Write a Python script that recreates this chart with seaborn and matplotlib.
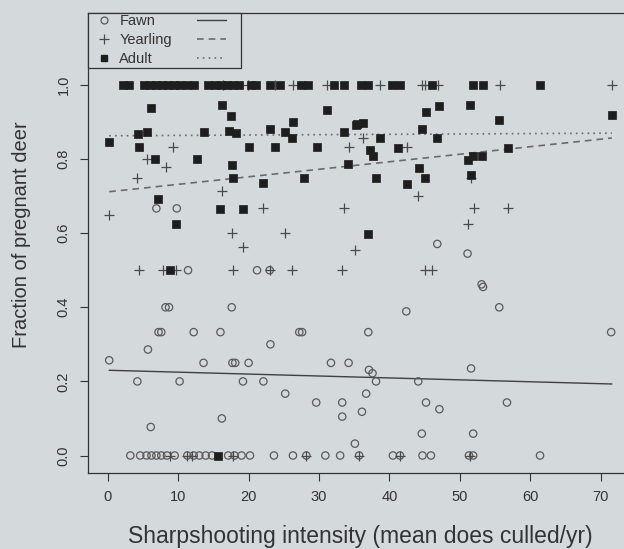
import matplotlib
matplotlib.use("Agg")
import matplotlib.pyplot as plt
import seaborn as sns
import pandas as pd
from matplotlib.lines import Line2D

# ---- pregnancy fraction by age class vs. sharpshooting intensity ----
fawn_x = [6.9, 9.8, 46.8, 51.1, 11.4, 21.2, 23.0, 53.1, 53.3, 8.2, 8.7, 17.6, 55.6,
          42.4, 7.2, 7.6, 12.2, 16.0, 27.2, 27.6, 37.0, 71.5, 23.1, 5.7, 0.2, 13.6,
          17.7, 18.1, 20.0, 31.7, 34.2, 51.6, 37.1, 37.6, 4.2, 10.2, 19.2, 22.1, 38.1,
          44.1, 25.2, 36.7, 29.6, 33.3, 45.2, 56.7, 47.1, 36.1, 33.3, 16.2, 6.1, 44.6,
          51.9, 35.1,
          3.2, 4.6, 5.5, 6.2, 6.9, 7.6, 8.4, 9.5, 11.3, 12.2, 13.0, 13.9, 14.8, 17.1,
          18.0, 19.0, 20.2, 23.6, 26.3, 28.2, 30.9, 33.0, 35.7, 40.5, 41.5, 44.7,
          45.9, 51.3, 51.9, 61.4]
fawn_y = [0.667, 0.667, 0.571, 0.545, 0.5, 0.5, 0.5, 0.462, 0.455, 0.4, 0.4, 0.4, 0.4,
          0.389, 0.333, 0.333, 0.333, 0.333, 0.333, 0.333, 0.333, 0.333, 0.3, 0.286,
          0.257, 0.25, 0.25, 0.25, 0.25, 0.25, 0.25, 0.235, 0.231, 0.222, 0.2, 0.2,
          0.2, 0.2, 0.2, 0.2, 0.167, 0.167, 0.143, 0.143, 0.143, 0.143, 0.125, 0.118,
          0.105, 0.1, 0.077, 0.059, 0.059, 0.032,
          0, 0, 0, 0, 0, 0, 0, 0, 0, 0, 0, 0, 0, 0, 0, 0, 0, 0, 0, 0, 0, 0, 0, 0, 0,
          0, 0, 0, 0, 0]

yearling_x = [0.2, 4.2, 5.6, 8.2, 9.2, 16.2, 17.7, 19.2, 22.1, 25.2, 33.5, 34.2, 35.1,
              36.2, 42.5, 44.1, 52.0, 56.8, 51.1, 51.6,
              4.5, 7.8, 9.7, 17.8, 23.0, 26.1, 33.3, 45.1, 46.0,
              16.3, 19.9, 23.8, 26.3, 31.1, 38.7, 44.6, 45.1, 46.9, 55.7, 71.6,
              8.9, 11.3, 12.0, 17.8, 28.2, 35.7, 41.5, 51.5]
yearling_y = [0.649, 0.75, 0.8, 0.778, 0.833, 0.714, 0.6, 0.563, 0.667, 0.6, 0.667,
              0.833, 0.556, 0.857, 0.833, 0.7, 0.667, 0.667, 0.625, 0.75,
              0.5, 0.5, 0.5, 0.5, 0.5, 0.5, 0.5, 0.5, 0.5,
              1, 1, 1, 1, 1, 1, 1, 1, 1, 1, 1,
              0, 0, 0, 0, 0, 0, 0, 0]

adult_x = [6.1, 16.2, 17.5, 31.1, 35.2, 26.3, 4.3, 5.5, 13.6, 17.2, 18.2, 23.0, 25.2,
           26.2, 33.5, 0.2, 4.5, 20.0, 23.7, 29.7, 6.7, 12.7, 17.7, 34.1, 17.8, 27.9,
           22.1, 7.2, 16.0, 19.2, 9.7, 35.4, 36.2, 38.7, 37.2, 37.6, 41.2, 45.2, 47.1,
           51.5, 55.6, 44.7, 46.8, 71.6, 56.8, 38.1, 42.5, 44.2, 45.1, 51.1, 51.9, 53.2,
           51.6, 37.0, 8.8, 15.6,
           2.2, 3.0, 5.1, 6.0, 6.9, 7.7, 8.6, 9.4, 10.3, 11.2, 12.2, 14.3, 15.2, 16.1,
           16.9, 17.8, 18.7, 20.4, 21.1, 23.1, 24.4, 27.4, 28.5, 32.1, 33.5, 35.9,
           37.0, 40.3, 41.5, 46.0, 51.9, 53.3, 61.4]
adult_y = [0.937, 0.946, 0.915, 0.932, 0.893, 0.899, 0.867, 0.874, 0.874, 0.876, 0.87,
           0.881, 0.874, 0.856, 0.874, 0.846, 0.832, 0.832, 0.832, 0.832, 0.8, 0.8,
           0.785, 0.786, 0.749, 0.749, 0.735, 0.692, 0.666, 0.666, 0.624, 0.896, 0.898,
           0.856, 0.824, 0.808, 0.831, 0.926, 0.942, 0.947, 0.906, 0.88, 0.856, 0.919,
           0.83, 0.748, 0.734, 0.775, 0.748, 0.797, 0.808, 0.809, 0.756, 0.597, 0.5, 0.0,
           1, 1, 1, 1, 1, 1, 1, 1, 1, 1, 1, 1, 1, 1, 1, 1, 1, 1, 1, 1, 1, 1, 1, 1, 1,
           1, 1, 1, 1, 1, 1, 1, 1]

# fitted trend for each class: values at the ends of the intensity range
fit_x = [0.2, 71.6]
fawn_fit = [0.230, 0.193]
yearling_fit = [0.712, 0.857]
adult_fit = [0.863, 0.870]

age_classes = ["Fawn", "Yearling", "Adult"]
x_ticks = [0, 10, 20, 30, 40, 50, 60, 70]
y_ticks = [0.0, 0.2, 0.4, 0.6, 0.8, 1.0]

BG = "#d4d9db"
INK = "#333333"

sns.set_theme(style="white", rc={"axes.facecolor": BG, "figure.facecolor": BG})
plt.rcParams["font.family"] = ["Liberation Sans", "DejaVu Sans"]

fig = plt.figure(figsize=(6.24, 5.49), dpi=100)
W, H = 624, 549
left, right, top, bottom = 88, 640, 13, 473
ax = fig.add_axes([left / W, 1 - bottom / H, (right - left) / W, (bottom - top) / H])

fawn = pd.DataFrame({"x": fawn_x, "y": fawn_y})
yearling = pd.DataFrame({"x": yearling_x, "y": yearling_y})
adult = pd.DataFrame({"x": adult_x, "y": adult_y})

sns.scatterplot(data=fawn, x="x", y="y", marker="o", s=28, facecolor="none",
                edgecolor="#5a5a5a", linewidth=0.9, ax=ax, zorder=3)
sns.scatterplot(data=yearling, x="x", y="y", marker="+", s=45, color="#4a4a4a",
                linewidth=0.9, ax=ax, zorder=3)
sns.scatterplot(data=adult, x="x", y="y", marker="s", s=28, color="#1e1e1e",
                edgecolor="#1e1e1e", linewidth=0.5, ax=ax, zorder=4)

fits = pd.DataFrame({"x": fit_x * 3,
                     "y": fawn_fit + yearling_fit + adult_fit,
                     "cls": [c for c in age_classes for _ in fit_x]})
line_styles = {"Fawn": dict(ls="-", color="#404040", lw=1.0),
               "Yearling": dict(ls=(0, (4, 3)), color="#6a6a6a", lw=1.2),
               "Adult": dict(ls=(0, (1, 2.5)), color="#6a6a6a", lw=1.2)}
for cls in age_classes:
    sub = fits[fits["cls"] == cls]
    sns.lineplot(data=sub, x="x", y="y", ax=ax, zorder=2, **line_styles[cls])

ax.set_xlim((left - 107.8) / 7.04, (right - 107.8) / 7.04)
ax.set_ylim((455.5 - bottom) / 370.5, (455.5 - top) / 370.5)

ax.set_xticks(x_ticks)
ax.set_xticklabels([str(t) for t in x_ticks])
ax.set_yticks(y_ticks)
ax.set_yticklabels([f"{t:.1f}" for t in y_ticks], rotation=90, va="center")
ax.tick_params(axis="both", direction="out", length=5.5, width=0.8, color=INK,
               labelcolor=INK, labelsize=10.5, pad=7, left=True, bottom=True)
for side in ["left", "bottom", "top", "right"]:
    ax.spines[side].set_color(INK)
    ax.spines[side].set_linewidth(0.9)

ax.set_xlabel("Sharpshooting intensity (mean does culled/yr)", fontsize=16.5,
              color=INK)
ax.set_ylabel("Fraction of pregnant deer", fontsize=14.5, color=INK)
ax.xaxis.set_label_coords((360 - left) / (right - left), 1 - (537 - top) / (bottom - top))
ax.yaxis.set_label_coords((22 - left) / (right - left), 1 - (235 - top) / (bottom - top))
ax.xaxis.label.set_va("center")
ax.yaxis.label.set_va("center")

marker_handles = [
    Line2D([], [], ls="none", marker="o", ms=5, mfc="none", mec="#5a5a5a", mew=0.9),
    Line2D([], [], ls="none", marker="+", ms=7, color="#4a4a4a", mew=0.9),
    Line2D([], [], ls="none", marker="s", ms=4.5, color="#1e1e1e"),
]
line_handles = [Line2D([], [], **line_styles[c]) for c in age_classes]
leg = ax.legend(marker_handles + line_handles,
                age_classes + ["   "] * 3,
                loc="upper left", ncol=2, frameon=True, fancybox=False,
                borderaxespad=0, borderpad=0.1, handlelength=2.0,
                handletextpad=0.05, columnspacing=1.7, labelspacing=0.33,
                fontsize=10.5, facecolor=BG, edgecolor=INK, framealpha=1)
leg.get_frame().set_linewidth(0.9)
for t in leg.get_texts():
    t.set_color(INK)

ax.grid(False)
fig.savefig("out.png", dpi=100, facecolor=BG)
